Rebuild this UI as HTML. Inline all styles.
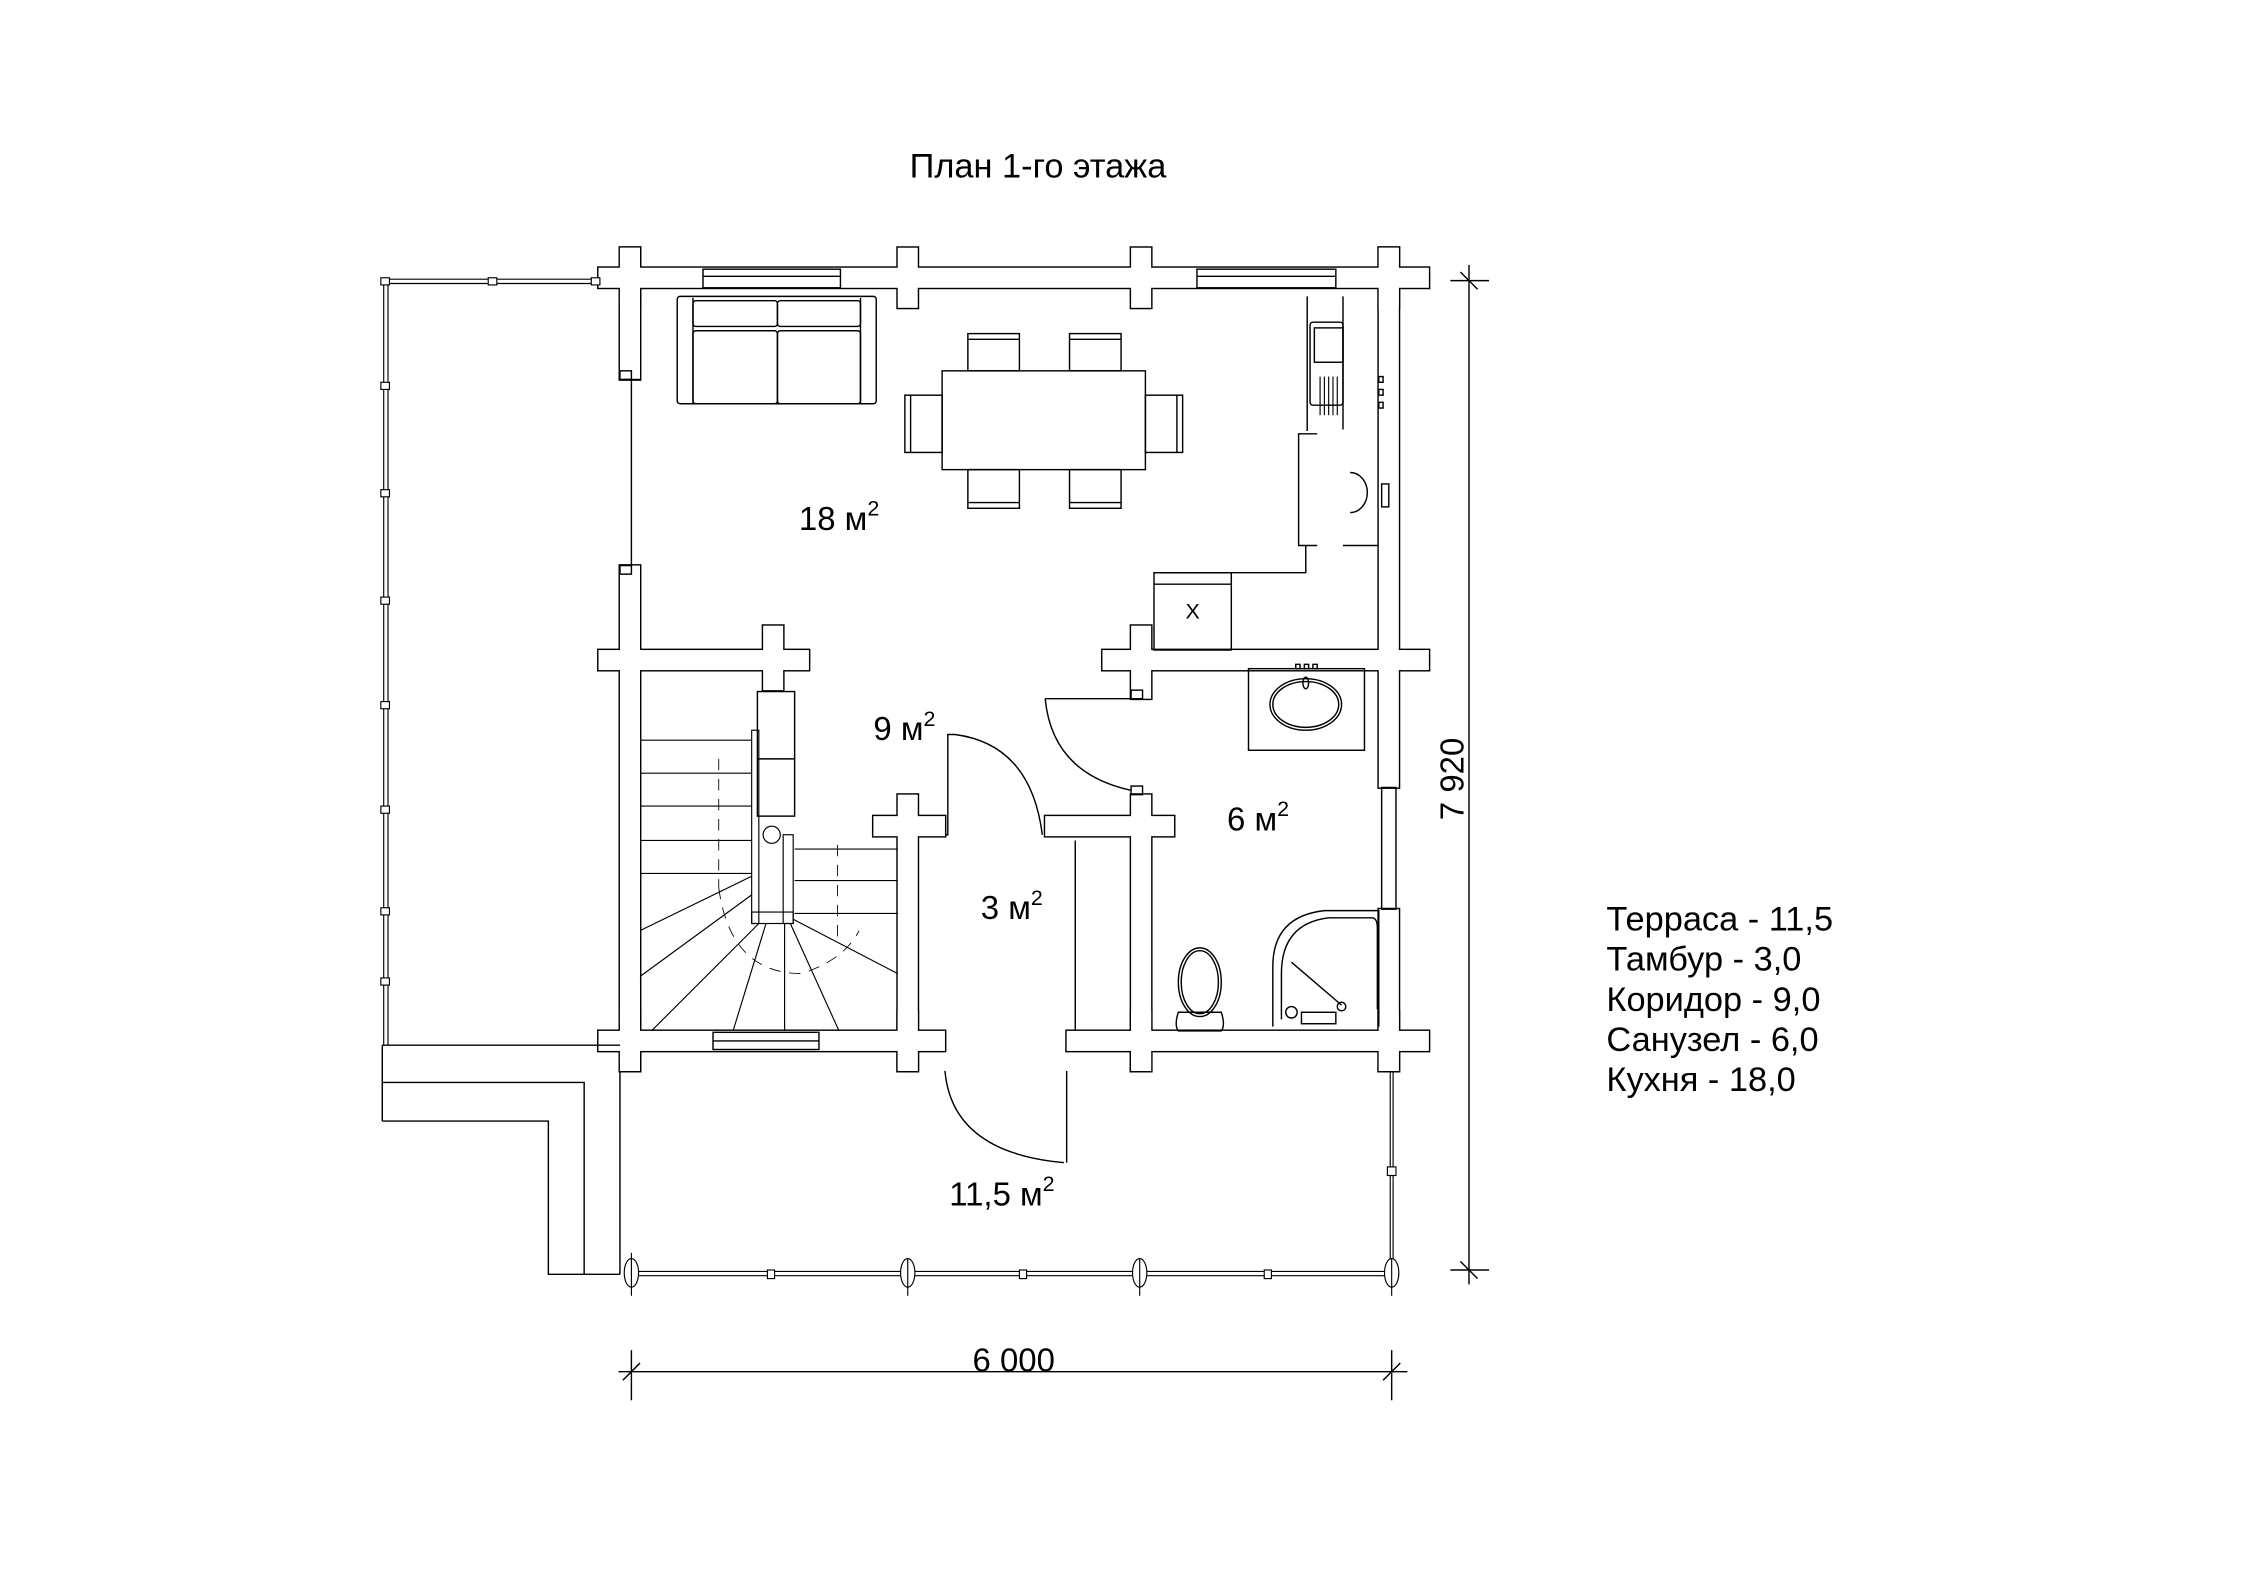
<!DOCTYPE html>
<html><head><meta charset="utf-8"><style>
html,body{margin:0;padding:0;background:#fff}
svg{display:block}
text{font-family:"Liberation Sans",Arial,sans-serif;fill:#000}
</style></head><body>
<svg width="2245" height="1587" viewBox="0 0 1568 1108.4" preserveAspectRatio="none" xmlns="http://www.w3.org/2000/svg">
<defs>
<g id="w">
<rect x="418" y="187" width="580" height="14"/>
<rect x="433" y="173" width="14" height="42"/>
<rect x="627" y="173" width="14" height="42"/>
<rect x="790" y="173" width="14" height="42"/>
<rect x="963" y="173" width="14" height="42"/>
<rect x="433" y="173" width="14" height="92"/>
<rect x="433" y="395" width="14" height="353"/>
<rect x="963" y="173" width="14" height="377"/>
<rect x="963" y="635" width="14" height="113"/>
<rect x="418" y="454" width="147" height="14"/>
<rect x="533" y="437" width="14" height="45"/>
<rect x="770" y="454" width="228" height="14"/>
<rect x="790" y="437" width="14" height="51"/>
<rect x="627" y="555" width="14" height="193"/>
<rect x="610" y="570" width="50" height="14"/>
<rect x="790" y="555" width="14" height="193"/>
<rect x="730" y="570" width="90" height="14"/>
<rect x="418" y="720" width="242" height="14"/>
<rect x="745" y="720" width="253" height="14"/>
<rect x="433" y="706" width="14" height="42"/>
<rect x="627" y="706" width="14" height="42"/>
<rect x="790" y="706" width="14" height="42"/>
<rect x="963" y="706" width="14" height="42"/>
</g>
</defs>
<g fill="none" stroke="#000" stroke-width="1">
<use href="#w" stroke="#000" stroke-width="2" fill="#fff"/>
<use href="#w" stroke="none" fill="#fff"/>

<line x1="441" y1="265" x2="441" y2="395"/>
<line x1="435" y1="265" x2="447" y2="265"/>
<rect x="433" y="259" width="8" height="6"/>
<rect x="433" y="395" width="8" height="6"/>
<rect x="965" y="550" width="10" height="85"/>
<rect x="965" y="338" width="5" height="16"/>

<rect x="491" y="188" width="96" height="13" fill="#fff"/>
<line x1="491" y1="193" x2="587" y2="193"/>
<rect x="836" y="188" width="97" height="13" fill="#fff"/>
<line x1="836" y1="193" x2="933" y2="193"/>
<rect x="498" y="721" width="74" height="12" fill="#fff"/>
<line x1="498" y1="727" x2="572" y2="727"/>

<g stroke-width="0.8">
<line x1="270" y1="195" x2="418" y2="195"/><line x1="270" y1="198" x2="418" y2="198"/>
<line x1="268" y1="196" x2="268" y2="730"/><line x1="271" y1="196" x2="271" y2="730"/>
<rect x="266" y="194" width="6" height="5" fill="#fff"/>
<rect x="341" y="194" width="6" height="5" fill="#fff"/>
<rect x="413" y="194" width="6" height="5" fill="#fff"/>
<rect x="266" y="267" width="6" height="5" fill="#fff"/>
<rect x="266" y="342" width="6" height="5" fill="#fff"/>
<rect x="266" y="417" width="6" height="5" fill="#fff"/>
<rect x="266" y="490" width="6" height="5" fill="#fff"/>
<rect x="266" y="563" width="6" height="5" fill="#fff"/>
<rect x="266" y="634" width="6" height="5" fill="#fff"/>
<rect x="266" y="683" width="6" height="5" fill="#fff"/>
<line x1="441" y1="888" x2="972" y2="888"/><line x1="441" y1="891" x2="972" y2="891"/>
<line x1="971" y1="748" x2="971" y2="885"/><line x1="973" y1="748" x2="973" y2="885"/>
<rect x="536" y="887" width="5" height="6" fill="#fff"/>
<rect x="712" y="887" width="5" height="6" fill="#fff"/>
<rect x="883" y="887" width="5" height="6" fill="#fff"/>
<rect x="969" y="815" width="6" height="6" fill="#fff"/>
<ellipse cx="441" cy="889" rx="5" ry="10" fill="#fff"/>
<ellipse cx="634" cy="889" rx="5" ry="10" fill="#fff"/>
<ellipse cx="796" cy="889" rx="5" ry="10" fill="#fff"/>
<ellipse cx="972" cy="889" rx="5" ry="10" fill="#fff"/>
<line x1="441" y1="875" x2="441" y2="905"/><line x1="634" y1="879" x2="634" y2="905"/>
<line x1="796" y1="879" x2="796" y2="905"/><line x1="972" y1="879" x2="972" y2="905"/>
</g>
<polyline points="267,730 433,730"/>
<polyline points="267,756 408,756 408,890 433,890"/>
<polyline points="267,783 383,783 383,890 408,890"/>
<line x1="267" y1="730" x2="267" y2="783"/>
<line x1="433" y1="748" x2="433" y2="890"/>

<rect x="473" y="207" width="139" height="75" rx="2"/>
<line x1="484" y1="208" x2="484" y2="282"/><line x1="601" y1="208" x2="601" y2="282"/>
<rect x="484" y="210" width="59" height="18" rx="2"/><rect x="543" y="210" width="58" height="18" rx="2"/>
<rect x="484" y="231" width="59" height="51" rx="2"/><rect x="543" y="231" width="58" height="51" rx="2"/>

<rect x="658" y="259" width="142" height="69"/>
<rect x="676" y="233" width="36" height="26"/><line x1="676" y1="237" x2="712" y2="237"/>
<rect x="747" y="233" width="36" height="26"/><line x1="747" y1="237" x2="783" y2="237"/>
<rect x="676" y="328" width="36" height="27"/><line x1="676" y1="351" x2="712" y2="351"/>
<rect x="747" y="328" width="36" height="27"/><line x1="747" y1="351" x2="783" y2="351"/>
<rect x="632" y="276" width="26" height="40"/><line x1="636" y1="276" x2="636" y2="316"/>
<rect x="800" y="276" width="26" height="40"/><line x1="822" y1="276" x2="822" y2="316"/>

<line x1="913" y1="207" x2="913" y2="301"/>
<line x1="938" y1="207" x2="938" y2="300"/>
<rect x="915" y="225" width="23" height="58" rx="2"/>
<rect x="918" y="229" width="20" height="24"/>
<g stroke-width="0.8"><line x1="922" y1="263" x2="922" y2="290"/><line x1="925" y1="263" x2="925" y2="290"/><line x1="928" y1="263" x2="928" y2="290"/><line x1="931" y1="263" x2="931" y2="290"/><line x1="934" y1="263" x2="934" y2="290"/></g>
<rect x="963" y="263" width="3" height="4"/><rect x="963" y="272" width="3" height="4"/><rect x="963" y="281" width="3" height="4"/>
<polyline points="920,303 907,303 907,381 920,381"/>
<line x1="938" y1="381" x2="963" y2="381"/>
<path d="M943 330 A12 14 0 0 1 943 358"/>
<polyline points="806,400 912,400 912,381"/>
<rect x="806" y="400" width="54" height="54"/>
<line x1="806" y1="408" x2="860" y2="408"/>
<text x="833" y="432" font-size="15" text-anchor="middle" stroke="none">X</text>

<rect x="529" y="483" width="26" height="87"/>
<line x1="529" y1="530" x2="555" y2="530"/>
<g stroke-width="0.8">
<line x1="447" y1="517" x2="525" y2="517"/>
<line x1="447" y1="540" x2="525" y2="540"/>
<line x1="447" y1="563" x2="525" y2="563"/>
<line x1="447" y1="587" x2="525" y2="587"/>
<line x1="447" y1="610" x2="525" y2="610"/>
<line x1="555" y1="593" x2="627" y2="593"/>
<line x1="555" y1="615" x2="627" y2="615"/>
<line x1="555" y1="638" x2="627" y2="638"/>
<rect x="525" y="510" width="5" height="135"/>
<rect x="547" y="583" width="7" height="62"/>
<rect x="525" y="637" width="29" height="8"/>
<circle cx="539" cy="583" r="6"/>
<line x1="525" y1="612" x2="447" y2="650"/>
<line x1="525" y1="625" x2="447" y2="682"/>
<line x1="530" y1="645" x2="455" y2="720"/>
<line x1="535" y1="645" x2="512" y2="720"/>
<line x1="548" y1="645" x2="548" y2="720"/>
<line x1="552" y1="645" x2="586" y2="720"/>
<line x1="554" y1="642" x2="627" y2="680"/>
</g>
<g stroke-width="0.6" stroke-dasharray="8 6">
<line x1="502" y1="530" x2="502" y2="620"/><line x1="585" y1="590" x2="585" y2="660"/>
<path d="M502 620 Q510 680 560 680 Q590 670 600 650"/>
</g>

<polyline points="660,583 662,583 662,513 667,513"/>
<path d="M667 513 Q720 520 728 583"/>
<line x1="730" y1="488" x2="790" y2="488"/>
<path d="M730 488 Q735 540 790 552"/>
<rect x="790" y="482" width="8" height="6"/><rect x="790" y="549" width="8" height="6"/>
<line x1="745" y1="748" x2="745" y2="812"/>
<path d="M660 748 Q665 805 743 812"/>
<line x1="751" y1="587" x2="751" y2="720"/>

<rect x="872" y="467" width="81" height="57"/>
<ellipse cx="912" cy="492" rx="25" ry="18"/><ellipse cx="912" cy="492" rx="23" ry="16"/>
<ellipse cx="912" cy="477" rx="2" ry="4"/>
<rect x="905" y="464" width="3" height="3"/><rect x="911" y="464" width="3" height="3"/><rect x="917" y="464" width="3" height="3"/>
<ellipse cx="838" cy="686" rx="15" ry="24"/><ellipse cx="838" cy="686" rx="13" ry="22"/>
<path d="M823 707 Q820 716 823 720 L853 720 Q856 716 853 707 Z"/>
<path d="M889 717 L889 675 Q889 640 925 636 L963 636 L963 717"/>
<path d="M895 712 L895 680 Q895 645 928 641 L958 641 Q962 641 962 648 L962 705"/>
<line x1="902" y1="672" x2="937" y2="702"/>
<circle cx="937" cy="703" r="3"/>
<rect x="909" y="707" width="24" height="8"/>
<circle cx="902" cy="707" r="4"/>
</g>

<g stroke="#000" stroke-width="1" fill="none">
<line x1="432" y1="958" x2="983" y2="958"/>
<line x1="441" y1="943" x2="441" y2="978"/>
<line x1="972" y1="943" x2="972" y2="978"/>
<line x1="435" y1="964" x2="447" y2="952"/>
<line x1="966" y1="964" x2="978" y2="952"/>
<line x1="1026" y1="185" x2="1026" y2="897"/>
<line x1="1013" y1="196" x2="1040" y2="196"/>
<line x1="1013" y1="887" x2="1040" y2="887"/>
<line x1="1020" y1="190" x2="1032" y2="202"/>
<line x1="1020" y1="881" x2="1032" y2="893"/>
</g>

<text x="725" y="124" font-size="24" text-anchor="middle">План 1-го этажа</text>
<text x="708" y="958" font-size="23" text-anchor="middle">6 000</text>
<text transform="translate(1022,544) rotate(-90)" font-size="23" text-anchor="middle">7 920</text>
<g font-size="23">
<text x="558" y="370">18 м<tspan font-size="15" dy="-10">2</tspan></text>
<text x="610" y="517">9 м<tspan font-size="15" dy="-10">2</tspan></text>
<text x="857" y="580">6 м<tspan font-size="15" dy="-10">2</tspan></text>
<text x="685" y="642">3 м<tspan font-size="15" dy="-10">2</tspan></text>
<text x="663" y="842">11,5 м<tspan font-size="15" dy="-10">2</tspan></text>
</g>
<g font-size="24">
<text x="1122" y="650">Терраса - 11,5</text>
<text x="1122" y="678">Тамбур - 3,0</text>
<text x="1122" y="706">Коридор - 9,0</text>
<text x="1122" y="734">Санузел - 6,0</text>
<text x="1122" y="762">Кухня - 18,0</text>
</g>
</svg>
</body></html>
